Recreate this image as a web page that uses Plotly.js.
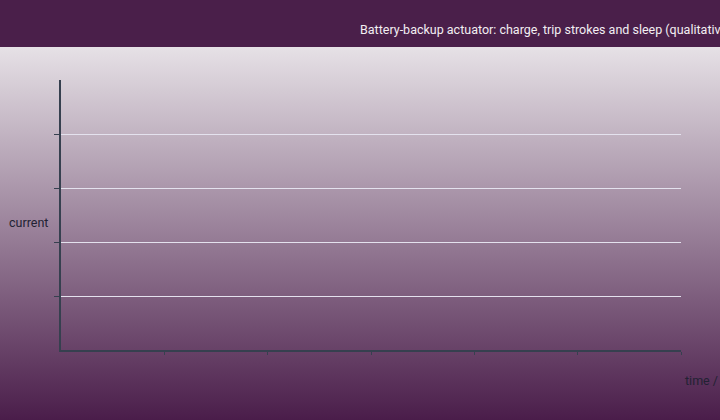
<!DOCTYPE html>
<html>
<head>
<meta charset="utf-8">
<script src="https://cdn.plot.ly/plotly-3.0.1.min.js"></script>
<style>
  html, body { margin: 0; padding: 0; }
  #chart {
    width: 720px; height: 420px;
    background: linear-gradient(to bottom, #e6e1e6 0px, #e6e1e6 47px, #4a1d4a 420px);
  }
</style>
</head>
<body>
<div id="chart"></div>
<script>
// qualitative sketch: no measured samples are plotted
const timeValues = [];
const currentValues = [];
const xTicks = [1, 2, 3, 4, 5, 6];
const yTicks = [1, 2, 3, 4];

const axisColor = '#36404f';

Plotly.newPlot('chart', [
  {
    x: timeValues,
    y: currentValues,
    type: 'scatter',
    mode: 'lines',
    line: { color: '#f0c040', width: 2 },
    showlegend: false
  }
], {
  width: 720,
  height: 420,
  paper_bgcolor: 'rgba(0,0,0,0)',
  plot_bgcolor: 'rgba(0,0,0,0)',
  margin: { l: 61, r: 39, t: 80, b: 70 },
  font: { family: 'Roboto, sans-serif', size: 12, color: '#222233' },
  title: {
    text: 'Battery-backup actuator: charge, trip strokes and sleep (qualitative)',
    x: 0.5, xanchor: 'left', xref: 'container',
    y: 1 - 30 / 420, yanchor: 'middle', yref: 'container',
    font: { family: 'Roboto, sans-serif', size: 12.5, color: '#f2eef2' }
  },
  xaxis: {
    range: [0, 6],
    tickvals: xTicks,
    showticklabels: false,
    ticks: 'outside', ticklen: 3, tickwidth: 1, tickcolor: axisColor,
    showline: true, linecolor: axisColor, linewidth: 2,
    showgrid: false, zeroline: false
  },
  yaxis: {
    range: [0, 5],
    tickvals: yTicks,
    showticklabels: false,
    ticks: 'outside', ticklen: 5, tickwidth: 1, tickcolor: axisColor,
    showline: true, linecolor: axisColor, linewidth: 2,
    showgrid: true, gridcolor: '#e4e2ee', gridwidth: 1,
    zeroline: false
  },
  shapes: [
    {
      type: 'rect', xref: 'paper', yref: 'paper', layer: 'below',
      x0: -61 / 620, x1: 1 + 39 / 620, y0: 1 + 33 / 270, y1: 1 + 80 / 270,
      fillcolor: '#4a1f4a', line: { width: 0 }
    }
  ],
  annotations: [
    {
      text: 'current', xref: 'paper', yref: 'paper',
      x: -54 / 620, y: (350 - 222) / 270, xanchor: 'left', yanchor: 'middle',
      showarrow: false, font: { size: 12.5, color: '#222233' }
    },
    {
      text: 'time / s', xref: 'paper', yref: 'paper',
      x: 1 + 2 / 620, y: -(380 - 350) / 270, xanchor: 'left', yanchor: 'middle',
      showarrow: false, font: { size: 12.5, color: '#222233' }
    }
  ]
}, { displayModeBar: false, staticPlot: true });
</script>
</body>
</html>
